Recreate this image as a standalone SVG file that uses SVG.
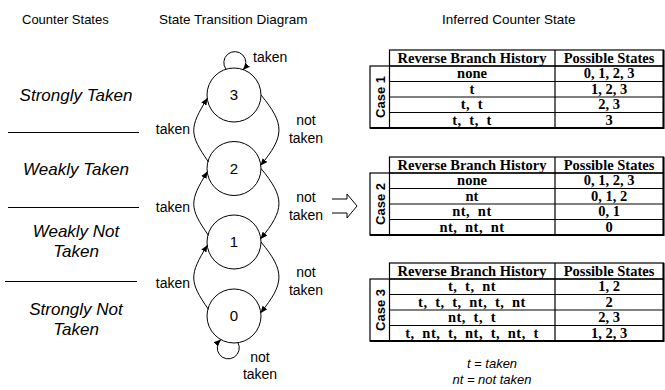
<svg xmlns="http://www.w3.org/2000/svg" width="665" height="390" viewBox="0 0 665 390">
  <defs>
    <marker id="ah" markerUnits="userSpaceOnUse" markerWidth="8" markerHeight="6" refX="7" refY="3" orient="auto">
      <path d="M0,0 L7,3 L0,6 z" fill="#000"/>
    </marker>
    <style>
      .hd { font: 13.5px "Liberation Sans", Arial, sans-serif; fill: #000; }
      .st { font: italic 17px "Liberation Sans", Arial, sans-serif; text-anchor: middle; fill: #000; }
      .lbl { font: 14px "Liberation Sans", Arial, sans-serif; fill: #000; }
      .mid { text-anchor: middle; }
      .end { text-anchor: end; }
      .num { font: 15px "Liberation Sans", Arial, sans-serif; text-anchor: middle; fill: #000; }
      .node circle { fill: none; stroke: #000; stroke-width: 1; }
      .edge { fill: none; stroke: #000; stroke-width: 1; marker-end: url(#ah); }
      .sep { stroke: #000; stroke-width: 1; }
      .grid { fill: none; stroke: #000; stroke-width: 1.2; }
      .outer { stroke: #000; stroke-width: 2; }
      .th, .td { font: bold 14.5px "Liberation Serif", "Times New Roman", serif; text-anchor: middle; fill: #000; }
      .hist { word-spacing: 3.5px; letter-spacing: 0.5px; }
      .case { font: bold 13px "Liberation Sans", Arial, sans-serif; text-anchor: middle; fill: #000; }
      .leg { font: italic 13px "Liberation Sans", Arial, sans-serif; text-anchor: middle; fill: #000; }
    </style>
  </defs>
  <rect width="665" height="390" fill="#fff"/>

  <!-- column titles -->
  <text class="hd" x="22" y="24" style="font-size:13px">Counter States</text>
  <text class="hd" x="159" y="24">State Transition Diagram</text>
  <text class="hd" x="442" y="24">Inferred Counter State</text>

  <!-- counter state names and separators -->
  <g id="state-names">
    <text class="st" x="76" y="101">Strongly Taken</text>
    <line class="sep" x1="8" y1="132.5" x2="139" y2="132.5"/>
    <text class="st" x="76" y="175">Weakly Taken</text>
    <line class="sep" x1="8" y1="207.5" x2="139" y2="207.5"/>
    <text class="st" x="76" y="237">Weakly Not</text>
    <text class="st" x="76" y="257">Taken</text>
    <line class="sep" x1="5" y1="281.5" x2="137" y2="281.5"/>
    <text class="st" x="76" y="315">Strongly Not</text>
    <text class="st" x="76" y="335">Taken</text>
  </g>

  <!-- state nodes -->
  <g id="s3" class="node"><circle cx="234" cy="95" r="27"/><text class="num" x="234" y="100">3</text></g>
  <g id="s2" class="node"><circle cx="234" cy="168.5" r="27"/><text class="num" x="234" y="173.5">2</text></g>
  <g id="s1" class="node"><circle cx="234" cy="242" r="27"/><text class="num" x="234" y="247">1</text></g>
  <g id="s0" class="node"><circle cx="234" cy="316" r="27"/><text class="num" x="234" y="321">0</text></g>

  <!-- transitions -->
  <g id="edges">
    <!-- self loops -->
    <path class="edge" d="M226 69.2 A11 11 0 1 1 243 70"/>
    <path class="edge" d="M238 342.7 A11 11 0 1 1 221 339.6"/>
    <!-- taken (upward, left side) -->
    <path class="edge" d="M208.5 162 C189 134, 189 128, 207.5 98"/>
    <path class="edge" d="M208.5 235.5 C189 207.5, 189 201.5, 207.5 171.5"/>
    <path class="edge" d="M208.5 309.5 C189 281.5, 189 275, 207.5 245"/>
    <!-- not taken (downward, right side) -->
    <path class="edge" d="M261 95 C285 124, 285 136, 260.5 165.5"/>
    <path class="edge" d="M261 168.5 C285 197.5, 285 209.5, 260.5 239"/>
    <path class="edge" d="M261 242 C285 271, 285 283, 260.5 313"/>
  </g>

  <!-- transition labels -->
  <g id="edge-labels">
    <text class="lbl" x="253" y="62">taken</text>
    <text class="lbl end" x="190" y="134">taken</text>
    <text class="lbl end" x="190" y="212">taken</text>
    <text class="lbl end" x="190" y="288">taken</text>
    <text class="lbl mid" x="306" y="125">not</text>
    <text class="lbl mid" x="306" y="143">taken</text>
    <text class="lbl mid" x="306" y="202">not</text>
    <text class="lbl mid" x="306" y="220">taken</text>
    <text class="lbl mid" x="306" y="277">not</text>
    <text class="lbl mid" x="306" y="295">taken</text>
    <text class="lbl mid" x="260" y="362">not</text>
    <text class="lbl mid" x="260" y="379">taken</text>
  </g>

  <!-- hollow implication arrow -->
  <path id="implies" d="M332 199 H347 V194 L357 206 L347 218 V213 H332" fill="none" stroke="#000" stroke-width="1"/>

  <!-- case 1 -->
  <g id="case1" transform="translate(0,50)">
    <rect class="grid" x="389.5" y="0" width="274" height="16"/>
    <rect class="grid" x="370" y="16" width="293.5" height="62"/>
    <path class="grid" d="M389.5 16 V78 M389.5 31.5 H663.5 M389.5 47 H663.5 M389.5 62.5 H663.5 M555 0 V78"/>
    <path class="outer" d="M663.5 0 V79 M370 78 H664.5"/>
    <text class="th" x="472" y="12.5">Reverse Branch History</text>
    <text class="th" x="609" y="12.5">Possible States</text>
    <text class="case" transform="translate(384.5,47) rotate(-90)">Case 1</text>
    <text class="td" x="472" y="28">none</text><text class="td" x="609" y="28">0, 1, 2, 3</text>
    <text class="td" x="472" y="43.5">t</text><text class="td" x="609" y="43.5">1, 2, 3</text>
    <text class="td hist" x="472" y="59">t, t</text><text class="td" x="609" y="59">2, 3</text>
    <text class="td hist" x="472" y="74.5">t, t, t</text><text class="td" x="609" y="74.5">3</text>
  </g>

  <!-- case 2 -->
  <g id="case2" transform="translate(0,157)">
    <rect class="grid" x="389.5" y="0" width="274" height="16"/>
    <rect class="grid" x="370" y="16" width="293.5" height="62"/>
    <path class="grid" d="M389.5 16 V78 M389.5 31.5 H663.5 M389.5 47 H663.5 M389.5 62.5 H663.5 M555 0 V78"/>
    <path class="outer" d="M663.5 0 V79 M370 78 H664.5"/>
    <text class="th" x="472" y="12.5">Reverse Branch History</text>
    <text class="th" x="609" y="12.5">Possible States</text>
    <text class="case" transform="translate(384.5,47) rotate(-90)">Case 2</text>
    <text class="td" x="472" y="28">none</text><text class="td" x="609" y="28">0, 1, 2, 3</text>
    <text class="td" x="472" y="43.5">nt</text><text class="td" x="609" y="43.5">0, 1, 2</text>
    <text class="td hist" x="472" y="59">nt, nt</text><text class="td" x="609" y="59">0, 1</text>
    <text class="td hist" x="472" y="74.5">nt, nt, nt</text><text class="td" x="609" y="74.5">0</text>
  </g>

  <!-- case 3 -->
  <g id="case3" transform="translate(0,263)">
    <rect class="grid" x="389.5" y="0" width="274" height="16"/>
    <rect class="grid" x="370" y="16" width="293.5" height="62"/>
    <path class="grid" d="M389.5 16 V78 M389.5 31.5 H663.5 M389.5 47 H663.5 M389.5 62.5 H663.5 M555 0 V78"/>
    <path class="outer" d="M663.5 0 V79 M370 78 H664.5"/>
    <text class="th" x="472" y="12.5">Reverse Branch History</text>
    <text class="th" x="609" y="12.5">Possible States</text>
    <text class="case" transform="translate(384.5,47) rotate(-90)">Case 3</text>
    <text class="td hist" x="472" y="28">t, t, nt</text><text class="td" x="609" y="28">1, 2</text>
    <text class="td hist" x="472" y="43.5">t, t, t, nt, t, nt</text><text class="td" x="609" y="43.5">2</text>
    <text class="td hist" x="472" y="59">nt, t, t</text><text class="td" x="609" y="59">2, 3</text>
    <text class="td hist" x="472" y="74.5">t, nt, t, nt, t, nt, t</text><text class="td" x="609" y="74.5">1, 2, 3</text>
  </g>

  <!-- legend -->
  <text class="leg" x="492" y="368">t = taken</text>
  <text class="leg" x="492" y="384">nt = not taken</text>
</svg>
